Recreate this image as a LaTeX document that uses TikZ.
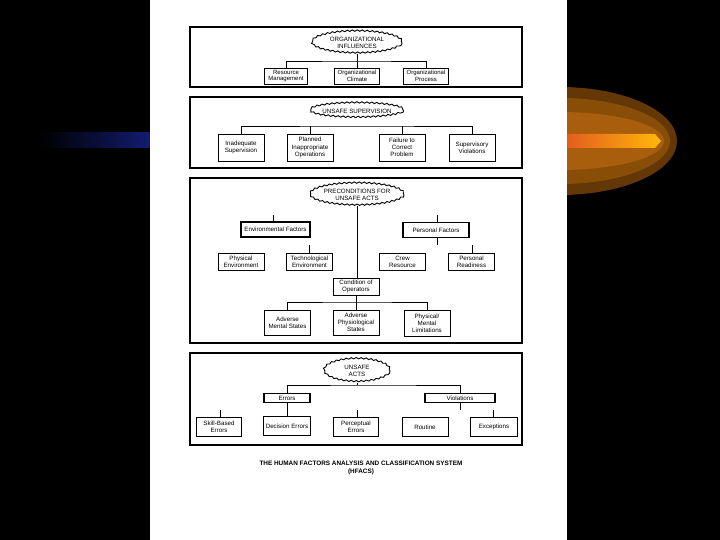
\documentclass[tikz,border=0pt]{standalone}
\usepackage{fontspec}
\setmainfont{Liberation Sans}
\usetikzlibrary{shapes.geometric,decorations.pathmorphing}

\definecolor{streakblue}{RGB}{18,28,112}
\definecolor{glowA}{RGB}{100,56,6}
\definecolor{glowB}{RGB}{136,78,8}
\definecolor{glowC}{RGB}{168,94,12}
\definecolor{barleft}{RGB}{226,86,30}
\definecolor{barright}{RGB}{255,184,12}

\newcommand{\boxfont}{\fontsize{6.2}{7.2}\selectfont}
\newcommand{\tightfont}{\fontsize{6}{6.4}\selectfont}
\newcommand{\titlefont}{\fontsize{6.4}{8}\selectfont\bfseries}

\begin{document}
\begin{tikzpicture}[x=1pt, y=-1pt,
  panel/.style={draw, line width=2.4pt},
  tierhead/.style={ellipse, draw, line width=0.9pt, fill=white,
                   decorate, decoration={snake, segment length=5pt, amplitude=0.7pt},
                   inner sep=0pt, align=center, font=\boxfont},
  item/.style={draw, fill=white, line width=0.6pt, inner sep=0pt,
               minimum width=46pt, minimum height=17pt,
               align=center, font=\boxfont},
  group/.style={item, line width=1.5pt},
  link/.style={line width=0.7pt}
]
  \useasboundingbox (0,0) rectangle (720,540);

  % Slide background
  \fill[black] (0,0) rectangle (720,540);
  \shade[left color=black, right color=streakblue] (40,133) rectangle (150,148);
  \fill[glowA] (560,141) ellipse [x radius=117, y radius=54];
  \fill[glowB] (560,141) ellipse [x radius=110, y radius=43];
  \fill[glowC] (560,141) ellipse [x radius=104, y radius=29];
  \shade[left color=barleft, right color=barright]
      (560,134) -- (655,134) -- (661,141) -- (655,148) -- (560,148) -- cycle;
  \fill[white] (150,0) rectangle (567,540);

  % Tier frames
  \draw[panel] (190,27)  rectangle (522,87);
  \draw[panel] (190,97)  rectangle (522,168);
  \draw[panel] (190,178) rectangle (522,343);
  \draw[panel] (190,353) rectangle (522,445);

  % Tier 1: organizational influences
  \node[tierhead, minimum width=90pt, minimum height=22pt] at (357,43) (orginf)
      {ORGANIZATIONAL\\INFLUENCES};
  \node[item, font=\tightfont, minimum width=43pt, minimum height=16pt] at (286,76) (res)  {Resource\\Management};
  \node[item, font=\tightfont, minimum width=45pt, minimum height=16pt] at (357,76) (clim) {Organizational\\Climate};
  \node[item, font=\tightfont, minimum width=45pt, minimum height=16pt] at (426,76) (proc) {Organizational\\Process};
  \coordinate (b1) at (357,61);
  \draw[link] (res.north) |- (b1) -| (proc.north);
  \draw[link] (orginf.south) -- (clim.north);

  % Tier 2: unsafe supervision
  \node[tierhead, minimum width=93pt, minimum height=14pt, inner xsep=-12pt] at (357,111) (unsup)
      {UNSAFE SUPERVISION};
  \node[item, minimum height=27pt] at (241,147.5) (insup) {Inadequate\\Supervision};
  \node[item, minimum height=27pt] at (310,147.5) (plan)  {Planned\\Inappropriate\\Operations};
  \node[item, minimum height=27pt] at (402,147.5) (fail)  {Failure to\\Correct\\Problem};
  \node[item, minimum height=27pt] at (472,147.5) (sviol) {Supervisory\\Violations};
  \coordinate (b2) at (357,126);
  \draw[link] (insup.north) |- (b2) -| (sviol.north);
  \draw[link] (plan.north) -- (plan.north |- b2);
  \draw[link] (fail.north) -- (fail.north |- b2);

  % Tier 3: preconditions for unsafe acts
  \node[tierhead, minimum width=90pt, minimum height=22pt] at (357,195) (pre)
      {PRECONDITIONS FOR\\UNSAFE ACTS};
  \node[group, minimum width=69pt, minimum height=15pt] at (275.5,229.5) (env)  {Environmental Factors};
  \node[group, minimum width=66pt, minimum height=15pt] at (436,230)    (pers) {Personal Factors};
  \node[item] at (241,261.5)   (phys) {Physical\\Environment};
  \node[item] at (309.5,261.5) (tech) {Technological\\Environment};
  \node[item] at (402.5,261.5) (crew) {Crew\\Resource};
  \node[item] at (471.5,261.5) (prdy) {Personal\\Readiness};
  \node[item] at (356,286.5)   (cond) {Condition of\\Operators};
  \node[item, minimum height=25pt] at (287.5,322.5) (ams) {Adverse\\Mental States};
  \node[item, minimum height=25pt] at (356,322.5)   (aps) {Adverse\\Physiological\\States};
  \node[item, minimum height=26pt] at (427,323)     (pml) {Physical/\\Mental\\Limitations};
  \draw[link] (pre.south) -- (pre.south |- cond.north);
  \coordinate (e1) at (273,215);
  \coordinate (p1) at (437,215);
  \coordinate (p2) at (437,245);
  \coordinate (t1) at (309,245);
  \coordinate (r1) at (472,245);
  \draw[link] (e1) -- (e1 |- env.north);
  \draw[link] (p1) -- (p1 |- pers.north);
  \draw[link] (p2 |- pers.south) -- (p2);
  \draw[link] (t1) -- (t1 |- tech.north);
  \draw[link] (r1) -- (r1 |- prdy.north);
  \coordinate (b3) at (357,302);
  \draw[link] (cond.south) -- (cond.south |- b3);
  \draw[link] (ams.north) |- (b3) -| (pml.north);
  \draw[link] (aps.north) -- (aps.north |- b3);

  % Tier 4: unsafe acts
  \node[tierhead, minimum width=66pt, minimum height=23pt] at (357,371) (ua) {UNSAFE\\ACTS};
  \node[group, minimum width=46pt, minimum height=9pt] at (287,398) (errs)  {Errors};
  \node[group, minimum width=70pt, minimum height=9pt] at (460,398) (viols) {Violations};
  \node[item, minimum width=45pt, minimum height=19pt] at (219,427) (sbe)  {Skill-Based\\Errors};
  \node[item, minimum width=47pt, minimum height=19pt] at (287,426) (dec)  {Decision Errors};
  \node[item, minimum width=45pt, minimum height=19pt] at (356,427) (per)  {Perceptual\\Errors};
  \node[item, minimum width=46pt, minimum height=19pt] at (425,427) (rout) {Routine};
  \node[item, minimum width=47pt, minimum height=19pt] at (494,427) (exc)  {Exceptions};
  \coordinate (b4) at (373,385);
  \draw[link] (errs.north) |- (b4) -| (viols.north);
  \draw[link] (ua.south) -- (ua.south |- b4);
  \draw[link] (errs.south) -- (dec.north);
  \coordinate (k1) at (220,410);
  \coordinate (k2) at (357,410);
  \coordinate (k3) at (493,410);
  \coordinate (v1) at (460,410);
  \draw[link] (k1) -- (k1 |- sbe.north);
  \draw[link] (k2) -- (k2 |- per.north);
  \draw[link] (k3) -- (k3 |- exc.north);
  \draw[link] (viols.south) -- (v1);

  % Caption
  \node[font=\titlefont, align=center] at (361,468) (title)
      {THE HUMAN FACTORS ANALYSIS AND CLASSIFICATION SYSTEM\\(HFACS)};
\end{tikzpicture}
\end{document}
